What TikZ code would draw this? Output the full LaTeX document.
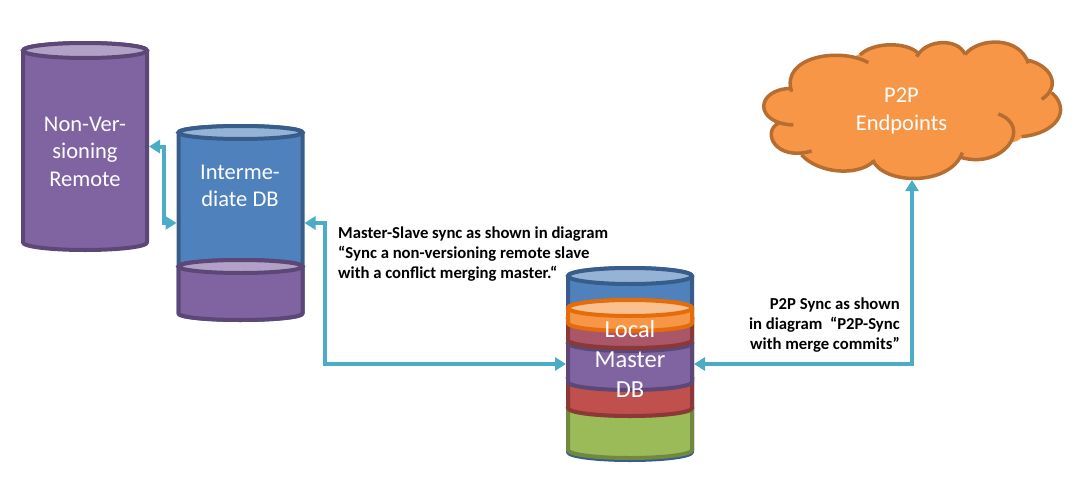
\documentclass[tikz,border=0pt]{standalone}
\usepackage{fontspec}
\setmainfont{Carlito}
\usepackage{tikz}
\usetikzlibrary{positioning, arrows.meta, patterns}
\definecolor{purpleFill}{HTML}{8064A2}
\definecolor{purpleLine}{HTML}{5C4776}
\definecolor{purpleTop}{HTML}{B2A1C7}
\definecolor{blueFill}{HTML}{4F81BD}
\definecolor{blueLine}{HTML}{385D8A}
\definecolor{blueTop}{HTML}{95B3D7}
\definecolor{redFill}{HTML}{C0504D}
\definecolor{redLine}{HTML}{8C3836}
\definecolor{greenFill}{HTML}{9BBB59}
\definecolor{greenLine}{HTML}{71893F}
\definecolor{orangeFill}{HTML}{F79646}
\definecolor{orangeLine}{HTML}{E46C0A}
\definecolor{orangeTop}{HTML}{FAC090}
\definecolor{cloudLine}{HTML}{B66D31}
\definecolor{syncLine}{HTML}{4BACC6}
\tikzstyle{arrow} = [line width=4pt, syncLine, {Triangle[length=11pt,width=13pt]}-{Triangle[length=11pt,width=13pt]}]
\tikzstyle{big} = [text=white, align=center, font=\fontsize{22.5}{27.5}\selectfont]
\tikzstyle{note} = [font=\fontsize{16.7}{20}\selectfont\bfseries]
% [extra fill]{name}{centre x}{top}{bottom}{end radius}{colour}{end colour}
\newcommand{\dbpart}[8][]{
    \draw[#7Line, line width=4pt, line join=round, preaction={fill=#7Fill}, #1] (#3-62,#4+#6) -- (#3-62,#5-#6) arc[start angle=180, end angle=0, x radius=62, y radius=#6] -- (#3+62,#4+#6) arc[start angle=0, end angle=-180, x radius=62, y radius=#6];
    \draw[#7Line, line width=4pt, fill=#8] (#3,#4+#6) ellipse[x radius=62, y radius=#6];
    \node (#2) [inner sep=0pt, outer sep=0pt, minimum width=128pt, minimum height={(#5-#4+4)*1pt}] at (#3,{(#4+#5)/2}) {};
}
\def\cloudarcs{125/205/15/207/10/310/130/315, 85/310/35/335/75/425/185/393, 155/405/205/460/320/470/370/425, 368/420/400/495/600/500/637/398, 632/412/760/450/850/320/745/282, 815/350/920/340/965/270/905/218, 875/238/935/200/905/135/830/120, 835/130/810/50/690/50/645/103, 645/103/625/55/530/55/500/110, 505/100/470/65/370/65/330/105, 355/128/270/80/90/110/125/215}
\begin{document}
\begin{tikzpicture}[x=1pt, y=-1pt]
    \useasboundingbox (0,0) rectangle (1092,495);

    % Non-versioning remote
    \dbpart{remote}{85}{43}{250}{7.5}{purple}{purpleTop}

    % Intermediate DB
    \dbpart{interm}{240.5}{126}{320}{6.5}{blue}{blueTop}
    \dbpart{intermLow}{240.5}{260}{320}{6.5}{purple}{purpleTop}

    % Local master DB, back to front
    \dbpart{master}{630}{268}{460}{8}{blue}{blueTop}
    \dbpart{masterGreen}{630}{400}{458}{8}{green}{greenFill}
    \dbpart{masterRed}{630}{370}{416}{8}{red}{redFill}
    \dbpart{masterPurple}{630}{335}{390}{8}{purple}{purpleFill}
    \dbpart[pattern=north east lines, pattern color=purpleFill]{masterHatch}{630}{310}{348}{8}{red}{redFill}
    \dbpart{masterOrange}{630}{300}{331}{8}{orange}{orangeTop}

    % Texts on the cylinders
    \node (remoteText) [big] at (85,151.5) {Non-Ver-\\sioning\\Remote};
    \node (intermText) [big] at (240,186) {Interme-\\diate DB};
    \node (masterText) [big, font=\fontsize{24.5}{30}\selectfont] at (630,359) {Local\\Master\\DB};

    % Cloud
    \begin{scope}[shift={(750,20)}, x=0.3333pt, y=-0.3333pt]
        \filldraw[orangeFill, line width=2pt] (125,205) -- (130,315) -- (85,310) -- (155,405) -- (370,425) -- (632,412) -- (800,360) -- (815,350) -- (905,218) -- (830,120) -- (645,103) -- (505,100) -- (330,105) -- cycle;
        \foreach \ax/\ay/\bx/\by/\cx/\cy/\dx/\dy in \cloudarcs
            \fill[orangeFill] (\ax,\ay) .. controls (\bx,\by) and (\cx,\cy) .. (\dx,\dy);
        \foreach \ax/\ay/\bx/\by/\cx/\cy/\dx/\dy in \cloudarcs
            \draw[cloudLine, line width=3.5pt] (\ax,\ay) .. controls (\bx,\by) and (\cx,\cy) .. (\dx,\dy);
    \end{scope}
    \node (cloudText) [big] at (901.5,111) {P2P\\Endpoints};
    \coordinate (cloudFoot) at (912,180);

    % Arrows
    \draw [arrow] (remote.east) -- ++(14.5,0) |- (interm.west);
    \draw [arrow] (interm.east) -- ++(20,0) |- (master.west);
    \draw [arrow] (master.east) -| (cloudFoot);

    % Labels
    \node (msNote) [note, align=left, inner sep=0pt, anchor=north west] at (338,227) {Master-Slave sync as shown in diagram\\“Sync a non-versioning remote slave\\with a conflict merging master.“};
    \node (ppNote) [note, align=right, inner sep=0pt, anchor=east] at (900,325) {P2P Sync as shown\\in diagram~~“P2P-Sync\\with merge commits”};

\end{tikzpicture}
\end{document}
